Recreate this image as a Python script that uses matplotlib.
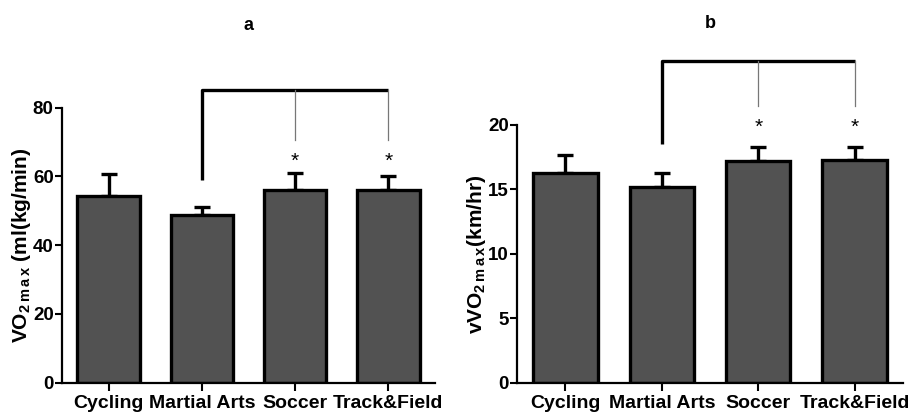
from matplotlib import pyplot as plt

# data
sports = ['Cycling', 'Martial Arts', 'Soccer', 'Track&Field']
vo2_mean = [54.3, 48.8, 56.1, 56.1]
vo2_err = [6.3, 2.4, 4.8, 4.1]
vvo2_mean = [16.25, 15.18, 17.23, 17.28]
vvo2_err = [1.45, 1.12, 1.07, 1.02]

plt.rcParams['font.family'] = ['Liberation Sans', 'DejaVu Sans']
plt.rcParams['font.weight'] = 'bold'
plt.rcParams['mathtext.fontset'] = 'custom'
plt.rcParams['mathtext.rm'] = 'Liberation Sans'

fig = plt.figure(figsize=(9.09, 4.15), dpi=100)
ax1 = fig.add_axes([0.0682, 0.0778, 0.4103, 0.6627])
ax2 = fig.add_axes([0.5691, 0.0778, 0.424, 0.621])

bar_col = '#525252'


def draw_panel(ax, means, errs, ymax, yticks, ylabel, title,
               bracket_y, thick_bottom, thin_bottom, star_y, title_y):
    x = range(len(sports))
    ax.bar(x, means, width=0.67, color=bar_col, edgecolor='black',
           linewidth=2.4, zorder=2)
    ax.errorbar(x, means, yerr=[[0] * len(errs), errs], fmt='none',
                ecolor='black', elinewidth=2.4, capsize=6, capthick=2.4,
                zorder=1)
    ax.set_xlim(-0.5, 3.5)
    ax.set_ylim(0, ymax)
    ax.set_yticks(yticks)
    ax.set_xticks(list(x))
    ax.set_xticklabels(sports, fontsize=14, fontweight='bold')
    ax.tick_params(axis='y', labelsize=13.5, width=1.5, length=5, pad=1)
    ax.tick_params(axis='x', width=1.5, length=6, pad=3)
    for lab in ax.get_yticklabels():
        lab.set_fontweight('bold')
    for s in ['top', 'right']:
        ax.spines[s].set_visible(False)
    for s in ['left', 'bottom']:
        ax.spines[s].set_linewidth(1.6)
    ax.set_ylabel(ylabel, fontsize=15, fontweight='bold', labelpad=0)

    # significance bracket from Martial Arts to Soccer and Track&Field
    ax.plot([1, 1, 3], [thick_bottom, bracket_y, bracket_y], color='black',
            linewidth=2.4, clip_on=False, solid_capstyle='butt')
    for xi in [2, 3]:
        ax.plot([xi, xi], [bracket_y, thin_bottom], color='#777777',
                linewidth=0.9, clip_on=False)
        ax.text(xi, star_y, '*', ha='center', va='center', fontsize=15,
                fontweight='normal')
    ax.text(1.5, title_y, title, ha='center', va='center', fontsize=13,
            fontweight='bold', transform=ax.get_xaxis_transform())


draw_panel(ax1, vo2_mean, vo2_err, 80, [0, 20, 40, 60, 80],
           r'VO$_{\mathrm{2\,m\,a\,x}}$ (ml(kg/min)', 'a',
           85.1, 58.9, 70.6, 64.5, 1.30)
draw_panel(ax2, vvo2_mean, vvo2_err, 20, [0, 5, 10, 15, 20],
           r'vVO$_{\mathrm{2\,m\,a\,x}}$(km/hr)', 'b',
           25.0, 18.5, 21.5, 19.8, 1.395)

fig.savefig('out.png', dpi=100)
